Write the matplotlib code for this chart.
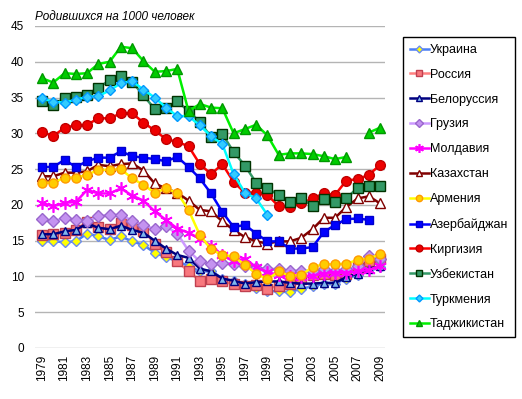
import numpy as np
import matplotlib
matplotlib.use("Agg")
import matplotlib.pyplot as plt

plt.rcParams['font.family'] = ['Liberation Sans', 'DejaVu Sans']

nan = np.nan
years = list(range(1979, 2010))
title = "Родившихся на 1000 человек"

names = ["Украина", "Россия", "Белоруссия", "Грузия", "Молдавия", "Казахстан",
         "Армения", "Азербайджан", "Киргизия", "Узбекистан", "Туркмения", "Таджикистан"]

ukraine = [15.0, 14.9, 14.8, 14.9, 16.0, 15.6, 15.1, 15.6, 14.9, 14.4, 13.3, 12.7, 12.1, 11.5, 10.7,
           10.8, 9.7, 9.3, 8.9, 8.4, 8.0, 7.9, 7.8, 8.3, 8.6, 9.0, 9.0, 9.7, 10.2, 11.0, 11.3]
russia = [15.8, 15.9, 16.1, 16.5, 17.6, 16.9, 16.6, 17.5, 17.2, 16.4, 14.6, 13.4, 12.1, 10.7, 9.4,
          9.6, 9.3, 8.9, 8.6, 8.8, 8.3, 8.7, 9.0, 9.7, 10.2, 10.4, 10.2, 10.4, 11.3, 12.1, 12.4]
belarus = [15.9, 15.9, 16.3, 16.5, 17.4, 16.8, 16.6, 17.1, 16.5, 16.1, 15.0, 13.9, 13.0, 12.6, 11.1,
           10.7, 9.7, 9.4, 9.0, 9.2, 9.3, 9.3, 9.1, 9.0, 9.0, 9.1, 9.1, 9.9, 10.4, 11.1, 11.4]
georgia = [18.0, 17.7, 18.2, 17.9, 17.7, 18.4, 18.6, 18.6, 17.8, 17.2, 16.6, 17.0, 16.0, 13.6, 12.1,
           11.7, 11.9, 11.8, 11.4, 11.2, 11.1, 11.0, 10.8, 10.8, 10.7, 11.0, 10.8, 11.0, 11.4, 12.9, 12.4]
moldova = [20.3, 19.8, 20.3, 20.4, 22.1, 21.6, 21.6, 22.3, 21.3, 20.6, 19.1, 17.9, 16.7, 16.1, 15.3,
           14.3, 13.0, 12.1, 12.5, 11.3, 10.6, 10.2, 10.0, 9.9, 10.1, 10.4, 10.5, 10.5, 10.7, 10.9, 11.5]
kazakhstan = [24.0, 24.0, 24.5, 24.5, 24.7, 25.6, 25.4, 25.7, 25.8, 24.8, 23.0, 22.3, 21.7, 20.6, 19.3,
              19.1, 17.7, 16.5, 15.5, 14.9, 14.6, 14.9, 14.9, 15.4, 16.6, 18.2, 18.2, 19.7, 20.9, 21.2, 20.2]
armenia = [23.1, 23.1, 23.8, 23.8, 24.2, 24.9, 24.9, 25.0, 23.7, 22.8, 21.7, 22.3, 21.7, 19.3, 15.8,
           13.8, 13.0, 12.8, 11.6, 10.4, 9.6, 10.7, 10.1, 10.2, 11.3, 11.7, 11.7, 11.8, 12.3, 12.5, 13.1]
azerbaijan = [25.3, 25.3, 26.3, 25.3, 26.1, 26.6, 26.6, 27.5, 26.8, 26.6, 26.4, 26.1, 26.7, 25.3, 23.7,
              21.6, 19.0, 16.9, 17.2, 16.0, 14.9, 14.9, 13.9, 13.9, 14.1, 16.2, 17.2, 18.0, 18.1, 17.9, nan]
kyrgyzstan = [30.2, 29.6, 30.8, 31.1, 31.2, 32.1, 32.1, 32.8, 32.8, 31.5, 30.4, 29.2, 28.8, 28.2, 25.7,
              24.3, 25.7, 23.2, 21.7, 21.7, 21.4, 19.8, 19.7, 20.2, 20.9, 21.6, 21.4, 23.4, 23.6, 24.2, 25.6]
uzbekistan = [34.5, 33.9, 35.0, 35.1, 35.4, 36.4, 37.4, 38.0, 37.2, 35.3, 33.4, 33.6, 34.5, 33.1, 31.6,
              29.5, 29.9, 27.4, 25.5, 23.1, 22.3, 21.4, 20.4, 21.0, 19.8, 20.8, 20.4, 20.9, 22.4, 22.6, 22.7]
turkmenistan = [34.9, 34.4, 34.3, 34.7, 35.1, 35.2, 36.0, 37.0, 37.3, 36.1, 35.0, 33.6, 32.4, 32.4, 31.1,
                29.6, 28.5, 24.3, 21.7, 20.9, 18.6, nan, nan, nan, nan, nan, nan, nan, nan, nan, nan]
tajikistan = [37.7, 37.1, 38.4, 38.3, 38.4, 39.7, 40.0, 42.1, 41.9, 40.1, 38.6, 38.7, 39.0, 33.1, 34.1,
              33.6, 33.5, 30.0, 30.6, 31.2, 29.7, 27.0, 27.2, 27.2, 27.1, 26.8, 26.4, 26.7, nan, 30.1, 30.8]

series = [ukraine, russia, belarus, georgia, moldova, kazakhstan,
          armenia, azerbaijan, kyrgyzstan, uzbekistan, turkmenistan, tajikistan]

# (line color, marker, face, edge, markersize)
styles = [
    ('#4A7FF5', 'D', '#FFFF00', '#6A8AF0', 5.0),
    ('#FF8080', 's', '#F8787E', '#C04050', 6.5),
    ('#000080', '^', '#7EB6EE', '#000080', 6.0),
    ('#CC99FF', 'D', '#C493F0', '#9966CC', 6.0),
    ('#FF00FF', (6, 2, 0), '#FF00FF', '#FF00FF', 9.0),
    ('#800000', '^', '#FFFFFF', '#800000', 6.5),
    ('#FFFF00', 'o', '#FFCC00', '#FF9900', 6.5),
    ('#0000FF', 's', '#0000FF', '#0000CC', 6.0),
    ('#FF0000', 'o', '#EE0000', '#C00000', 7.0),
    ('#339966', 's', '#339966', '#003300', 6.5),
    ('#00FFFF', 'D', '#33CCFF', '#0099FF', 5.0),
    ('#00F000', '^', '#00CC00', '#009900', 7.0),
]

fig = plt.figure(figsize=(5.22, 3.99), dpi=100)
ax = fig.add_axes([35/522, 1 - 348/399, (385 - 35)/522, (348 - 26)/399])

for name, vals, st in zip(names, series, styles):
    lc, mk, fc, ec, ms = st
    ax.plot(years, vals, color=lc, lw=1.8, marker=mk, markerfacecolor=fc,
            markeredgecolor=ec, markersize=ms, markeredgewidth=1.0 if mk != (6, 2, 0) else 1.2,
            label=name, clip_on=False)

ax.set_ylim(0, 45)
ax.set_yticks(range(0, 46, 5))
ax.set_xlim(1978.38, 2009.43)
ax.set_xticks(years[::2])
ax.set_xticklabels([str(y) for y in years[::2]], rotation=90, fontsize=8.5)
ax.tick_params(axis='y', labelsize=8.5, length=0, pad=8)
ax.tick_params(axis='x', length=0, pad=5)
ax.yaxis.grid(True, color='#B4B4B4', lw=1.0)
ax.set_axisbelow(True)
for s in ax.spines.values():
    s.set_visible(False)

fig.text(35/522, 1 - 17/399, title, fontsize=8.5, style='italic', va='center', ha='left')

leg = fig.legend(loc='upper left', bbox_to_anchor=(403/522, 1 - 37/399), fontsize=9,
                 frameon=True, fancybox=False, edgecolor='black', framealpha=1,
                 labelspacing=1.03, handlelength=1.5, handletextpad=0.1,
                 borderpad=0.55, borderaxespad=0, numpoints=1, markerscale=0.7)
leg.get_frame().set_linewidth(1.0)

fig.savefig('out.png', dpi=100)
